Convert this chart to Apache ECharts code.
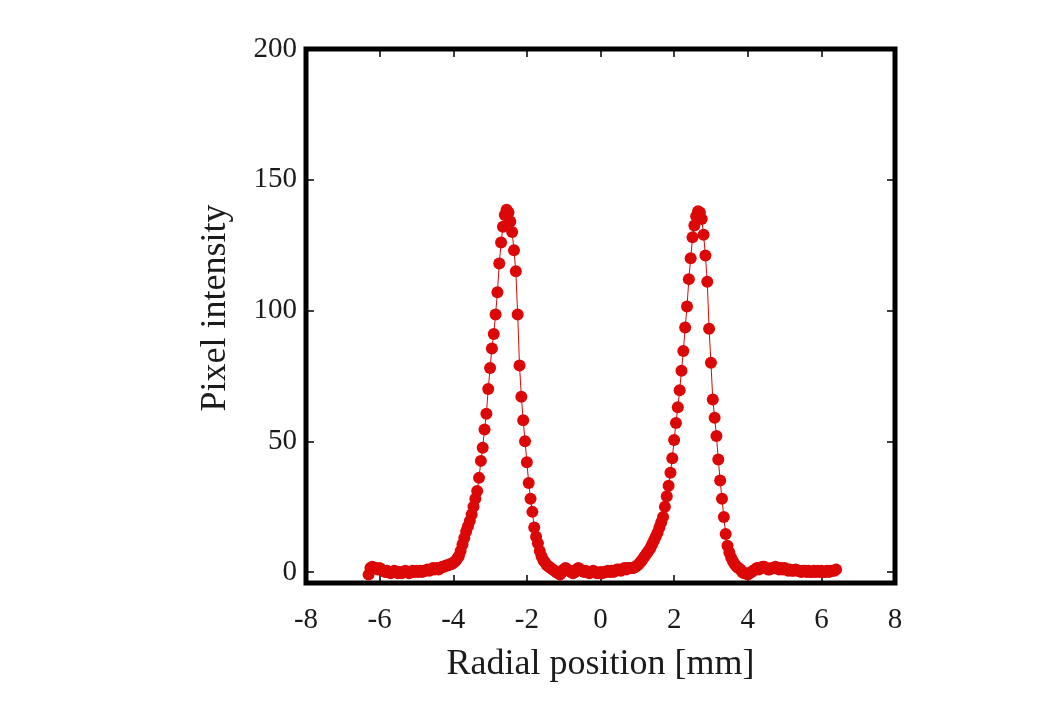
<!DOCTYPE html>
<html>
<head>
<meta charset="utf-8">
<script src="https://cdn.jsdelivr.net/npm/echarts@6/dist/echarts.min.js"></script>
<style>
html,body{margin:0;padding:0;background:#fff;}
#chart{width:1040px;height:713px;}
</style>
</head>
<body>
<div id="chart"></div>
<script>
// Radial position [mm]
const radialPosition = [
-6.30,-6.25,-6.20,-6.15,-6.10,-6.05,-6.00,-5.95,-5.90,-5.85,
-5.80,-5.75,-5.70,-5.65,-5.60,-5.55,-5.50,-5.45,-5.40,-5.35,
-5.30,-5.25,-5.20,-5.15,-5.10,-5.05,-5.00,-4.95,-4.90,-4.85,
-4.80,-4.75,-4.70,-4.65,-4.60,-4.55,-4.50,-4.45,-4.40,-4.35,
-4.30,-4.25,-4.20,-4.15,-4.10,-4.05,-4.00,-3.95,-3.90,-3.85,
-3.80,-3.75,-3.70,-3.65,-3.60,-3.55,-3.50,-3.45,-3.40,-3.35,
-3.30,-3.25,-3.20,-3.15,-3.10,-3.05,-3.00,-2.95,-2.90,-2.85,
-2.80,-2.75,-2.70,-2.65,-2.60,-2.55,-2.50,-2.45,-2.40,-2.35,
-2.30,-2.25,-2.20,-2.15,-2.10,-2.05,-2.00,-1.95,-1.90,-1.85,
-1.80,-1.75,-1.70,-1.65,-1.60,-1.55,-1.50,-1.45,-1.40,-1.35,
-1.30,-1.25,-1.20,-1.15,-1.10,-1.05,-1.00,-0.95,-0.90,-0.85,
-0.80,-0.75,-0.70,-0.65,-0.60,-0.55,-0.50,-0.45,-0.40,-0.35,
-0.30,-0.25,-0.20,-0.15,-0.10,-0.05,0.00,0.05,0.10,0.15,
0.20,0.25,0.30,0.35,0.40,0.45,0.50,0.55,0.60,0.65,
0.70,0.75,0.80,0.85,0.90,0.95,1.00,1.05,1.10,1.15,
1.20,1.25,1.30,1.35,1.40,1.45,1.50,1.55,1.60,1.65,
1.70,1.75,1.80,1.85,1.90,1.95,2.00,2.05,2.10,2.15,
2.20,2.25,2.30,2.35,2.40,2.45,2.50,2.55,2.60,2.65,
2.70,2.75,2.80,2.85,2.90,2.95,3.00,3.05,3.10,3.15,
3.20,3.25,3.30,3.35,3.40,3.45,3.50,3.55,3.60,3.65,
3.70,3.75,3.80,3.85,3.90,3.95,4.00,4.05,4.10,4.15,
4.20,4.25,4.30,4.35,4.40,4.45,4.50,4.55,4.60,4.65,
4.70,4.75,4.80,4.85,4.90,4.95,5.00,5.05,5.10,5.15,
5.20,5.25,5.30,5.35,5.40,5.45,5.50,5.55,5.60,5.65,
5.70,5.75,5.80,5.85,5.90,5.95,6.00,6.05,6.10,6.15,
6.20,6.25,6.30,6.35,6.40
];
// Pixel intensity
const pixelIntensity = [
-1,1.5,2,1.5,1.5,1,1.5,1,0.5,0,
0.5,0,-0.5,0,0.5,0,-0.5,0,-0.5,0,
0.5,0,-0.5,0,0.5,0,0.5,0,0.5,0,
0.5,0.5,1,0.5,1,1.5,1,1.5,1,1.5,
2,2,2.5,2.5,3,3,3.5,4,5,6,
8,10.5,13,15.5,17.5,19.5,22,25,28,31,
36,42.5,47.5,54.5,60.5,70,78,85.5,91,98.5,
107,118,126,132,136.5,138.5,137.5,134,130,123,
115,98.5,79,67,58,50,42,34,28,23,
17,13.5,11,8,6,4.5,3.5,2.5,2,1.5,
1,0.5,0,-0.5,-1,0,1,1.5,1,0.5,
0,-0.5,0,1,1.5,1,0.5,0,0.5,0,
-0.5,0,0.5,0,-0.5,-0.5,0,-0.5,0,0,
0.5,0,0.5,0,0.5,1,1,0.5,1,1.5,
1,1.5,1.5,1.5,1.5,2,2.5,3.2,4,5,
6,7,8,9,10.5,12,13.5,15,17,19,
21,25,29,33,38,43.5,50.5,57,63,69.5,
77,84.5,93.5,101.5,112,120,128,132.5,136,138,
137.5,135,129,121,111,93,80,66,59,52,
43,35,28,21,14.5,10,7.5,5.5,4,3,
2,1.5,1,0,-0.5,-0.5,-1,-0.5,0,0.5,
1,1.5,1,1.5,2,2,1.5,1,1,1.5,
1.5,2,1.5,1,1.5,1,1.5,1,0.5,1,
0.5,0.5,1,0.5,0.5,0,0.5,0.5,0,0.5,
0,0,0.5,0,0.5,0,0.5,0,0,0.5,
0,0.5,0.5,0.5,1
];
const xTickLabels = [-8,-6,-4,-2,0,2,4,6,8];
const yTickLabels = [0,50,100,150,200];

const xTitle = 'Radial position [mm]';
const yTitle = 'Pixel intensity';

const FONT = 'Liberation Serif';
const TXT = '#1b1b1b';
const RED = '#dc0808';

const chart = echarts.init(document.getElementById('chart'), null, {renderer: 'canvas'});

const xMin = xTickLabels[0], xMax = xTickLabels[xTickLabels.length - 1];
const yMin = -4.2, yMax = yTickLabels[yTickLabels.length - 1];
const yFmt = v => (yTickLabels.indexOf(Math.round(v * 1000) / 1000) >= 0 ? String(v) : '');

const tickStyle = {show: true, inside: true, length: 8, lineStyle: {color: '#000', width: 1.5}};
const noLine = {show: false, onZero: false};

chart.setOption({
  animation: false,
  backgroundColor: '#fff',
  grid: {
    left: 306, right: 145, top: 49, bottom: 130,
    show: true, borderColor: '#000', borderWidth: 5, backgroundColor: 'transparent'
  },
  xAxis: [{
    type: 'value', position: 'bottom', min: xMin, max: xMax, interval: 2,
    axisLine: noLine, splitLine: {show: false},
    axisTick: tickStyle,
    axisLabel: {color: TXT, fontFamily: FONT, fontSize: 29, margin: 23,
      formatter: v => String(v)},
    name: xTitle, nameLocation: 'middle', nameGap: 64,
    nameTextStyle: {color: TXT, fontFamily: FONT, fontSize: 36}
  }, {
    type: 'value', position: 'top', min: xMin, max: xMax, interval: 2,
    axisLine: noLine, splitLine: {show: false},
    axisTick: tickStyle, axisLabel: {show: false}
  }],
  yAxis: [{
    type: 'value', position: 'left', min: yMin, max: yMax,
    axisLine: noLine, splitLine: {show: false},
    axisTick: tickStyle,
    axisLabel: {color: TXT, fontFamily: FONT, fontSize: 29, margin: 9, formatter: yFmt},
    name: yTitle, nameLocation: 'middle', nameGap: 72,
    nameTextStyle: {color: TXT, fontFamily: FONT, fontSize: 36, padding: [0, 0, 0, 16]}
  }, {
    type: 'value', position: 'right', min: yMin, max: yMax,
    axisLine: noLine, splitLine: {show: false},
    axisTick: tickStyle, axisLabel: {show: false}
  }],
  series: [{
    type: 'line',
    xAxisIndex: 0, yAxisIndex: 0,
    data: radialPosition.map((x, i) => [x, pixelIntensity[i]]),
    symbol: 'circle', symbolSize: 12, showSymbol: true,
    itemStyle: {color: RED},
    lineStyle: {color: RED, width: 1},
    clip: false
  }]
});
</script>
</body>
</html>
